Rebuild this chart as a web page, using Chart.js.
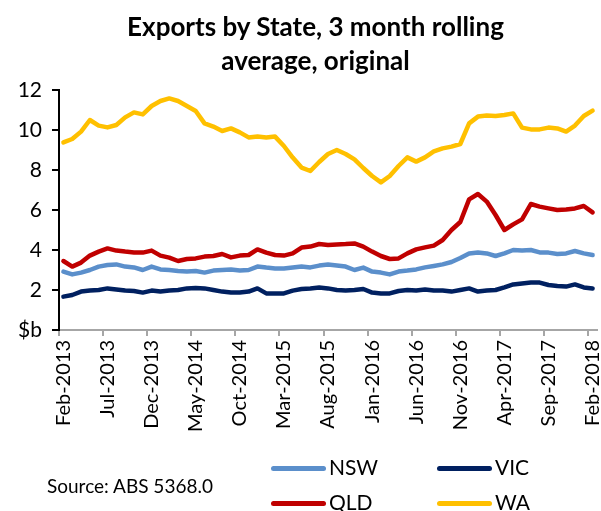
<!DOCTYPE html>
<html>
<head>
<meta charset="utf-8">
<script src="https://cdn.jsdelivr.net/npm/chart.js@4.4.1/dist/chart.umd.min.js"></script>
<style>
  html, body { margin: 0; padding: 0; background: #fff; }
  #wrap { position: relative; width: 601px; height: 511px; overflow: hidden; font-family: Lato, "Open Sans", sans-serif; color: #000; }
  #c { position: absolute; left: 0; top: 0; }
  #title { position: absolute; left: 15px; top: 9px; width: 601px; text-align: center; font-weight: bold; font-size: 26px; line-height: 34px; }
  .leg { position: absolute; height: 26px; line-height: 26px; font-size: 21px; white-space: nowrap; }
  .leg span.sw { display: inline-block; width: 55px; height: 5px; border-radius: 3px; vertical-align: middle; margin-right: 3px; position: relative; top: -1px; }
  #source { position: absolute; left: 47px; top: 474px; font-size: 19px; line-height: 24px; white-space: nowrap; }
</style>
</head>
<body>
<div id="wrap">
  <canvas id="c" width="601" height="511"></canvas>
  <div id="title">Exports by State, 3 month rolling<br>average, original</div>
  <div id="legend"></div>
  <div id="source">Source: ABS 5368.0</div>
</div>
<script>
// ---- Data ----
const months = [
  "Feb-2013","Mar-2013","Apr-2013","May-2013","Jun-2013","Jul-2013","Aug-2013","Sep-2013","Oct-2013","Nov-2013","Dec-2013",
  "Jan-2014","Feb-2014","Mar-2014","Apr-2014","May-2014","Jun-2014","Jul-2014","Aug-2014","Sep-2014","Oct-2014","Nov-2014","Dec-2014",
  "Jan-2015","Feb-2015","Mar-2015","Apr-2015","May-2015","Jun-2015","Jul-2015","Aug-2015","Sep-2015","Oct-2015","Nov-2015","Dec-2015",
  "Jan-2016","Feb-2016","Mar-2016","Apr-2016","May-2016","Jun-2016","Jul-2016","Aug-2016","Sep-2016","Oct-2016","Nov-2016","Dec-2016",
  "Jan-2017","Feb-2017","Mar-2017","Apr-2017","May-2017","Jun-2017","Jul-2017","Aug-2017","Sep-2017","Oct-2017","Nov-2017","Dec-2017",
  "Jan-2018","Feb-2018"
];
const seriesNames = ["NSW", "VIC", "QLD", "WA"];
const nsw = [2.92,2.78,2.87,3.0,3.17,3.25,3.28,3.17,3.13,3.0,3.17,3.03,3.0,2.95,2.92,2.95,2.87,2.97,3.0,3.03,2.98,3.0,3.17,3.12,3.08,3.08,3.13,3.17,3.13,3.22,3.27,3.22,3.17,3.0,3.12,2.92,2.87,2.78,2.92,2.97,3.03,3.13,3.2,3.28,3.4,3.6,3.83,3.88,3.83,3.7,3.83,4.0,3.97,4.0,3.88,3.87,3.8,3.83,3.95,3.83,3.75];
const vic = [1.67,1.75,1.92,1.97,2.0,2.08,2.03,1.97,1.95,1.87,1.97,1.92,1.97,2.0,2.08,2.1,2.08,2.0,1.92,1.87,1.88,1.92,2.08,1.83,1.83,1.83,1.97,2.05,2.08,2.12,2.08,2.0,1.97,2.0,2.05,1.87,1.83,1.83,1.95,2.0,1.97,2.03,1.97,1.97,1.92,2.0,2.08,1.92,1.97,2.0,2.13,2.28,2.33,2.37,2.37,2.25,2.2,2.17,2.28,2.13,2.08];
const qld = [3.45,3.17,3.37,3.72,3.92,4.08,3.97,3.92,3.88,3.87,3.97,3.72,3.62,3.45,3.55,3.58,3.67,3.7,3.8,3.63,3.72,3.75,4.03,3.87,3.75,3.72,3.83,4.12,4.17,4.3,4.25,4.28,4.3,4.33,4.17,3.92,3.7,3.55,3.58,3.83,4.03,4.13,4.22,4.5,5.0,5.4,6.53,6.8,6.42,5.75,5.0,5.28,5.53,6.3,6.17,6.08,6.0,6.03,6.08,6.2,5.88];
const wa  = [9.38,9.55,9.92,10.5,10.22,10.13,10.25,10.63,10.88,10.78,11.2,11.45,11.58,11.45,11.2,10.95,10.33,10.17,9.95,10.08,9.88,9.63,9.67,9.63,9.67,9.2,8.62,8.12,7.95,8.4,8.8,9.0,8.8,8.53,8.1,7.7,7.38,7.7,8.2,8.63,8.42,8.63,8.93,9.08,9.17,9.3,10.33,10.67,10.72,10.7,10.75,10.83,10.12,10.03,10.03,10.12,10.08,9.92,10.22,10.7,10.97];
const yTicks = [0, 2, 4, 6, 8, 10, 12];
const yUnitLabel = "$b";
const labelEvery = 5;

// ---- Styles ----
const colors = ["#5B8FCB", "#002060", "#C00000", "#FFC000"];
const seriesData = [nsw, vic, qld, wa];

const datasets = seriesNames.map((name, i) => ({
  label: name,
  data: seriesData[i],
  borderColor: colors[i],
  backgroundColor: colors[i],
  borderWidth: 4.5,
  pointRadius: 0,
  tension: 0,
  borderJoinStyle: "round",
  borderCapStyle: "round",
  fill: false
}));

const FONT = "Lato, 'Open Sans', sans-serif";

new Chart(document.getElementById("c"), {
  type: "line",
  data: { labels: months, datasets },
  options: {
    responsive: false,
    animation: false,
    devicePixelRatio: 1,
    layout: { padding: { top: 90, left: 0, right: 4, bottom: 0 } },
    plugins: { legend: { display: false }, title: { display: false }, tooltip: { enabled: false } },
    scales: {
      x: {
        type: "category",
        offset: true,
        grid: {
          offset: true,
          drawOnChartArea: false,
          drawTicks: true,
          tickLength: 6,
          lineWidth: 2,
          color: (ctx) => (ctx.index % labelEvery === 0 && ctx.index < months.length) ? "#A6A6A6" : "rgba(0,0,0,0)",
          tickColor: (ctx) => (ctx.index % labelEvery === 0 && ctx.index < months.length) ? "#A6A6A6" : "rgba(0,0,0,0)"
        },
        border: { display: true, color: "#A6A6A6", width: 2 },
        ticks: {
          autoSkip: false,
          maxRotation: 90,
          minRotation: 90,
          padding: 4,
          color: "#000",
          font: { family: FONT, size: 20 },
          callback: function (val, idx) { return idx % labelEvery === 0 ? months[idx] : ""; }
        },
        afterFit: (scale) => { scale.height = 181; scale.paddingLeft = 0; scale.paddingRight = 0; }
      },
      y: {
        min: 0,
        max: 12,
        afterBuildTicks: (scale) => { scale.ticks = yTicks.map(v => ({ value: v })); },
        grid: { drawOnChartArea: false, drawTicks: true, tickLength: 7, tickColor: "#000", color: "#000", lineWidth: 2 },
        border: { display: true, color: "#000", width: 2 },
        ticks: {
          padding: 10,
          color: "#000",
          font: { family: FONT, size: 21 },
          callback: (v) => v === 0 ? yUnitLabel : String(v)
        },
        afterFit: (scale) => { scale.width = 59; scale.paddingTop = 0; scale.paddingBottom = 0; }
      }
    }
  }
});

// ---- Legend (2 x 2) built from the series ----
const legendPos = [[271, 454], [437, 454], [271, 489], [437, 489]];
const legendEl = document.getElementById("legend");
seriesNames.forEach((name, i) => {
  const d = document.createElement("div");
  d.className = "leg";
  d.style.left = legendPos[i][0] + "px";
  d.style.top = legendPos[i][1] + "px";
  const sw = document.createElement("span");
  sw.className = "sw";
  sw.style.background = colors[i];
  d.appendChild(sw);
  d.appendChild(document.createTextNode(name));
  legendEl.appendChild(d);
});
</script>
</body>
</html>
